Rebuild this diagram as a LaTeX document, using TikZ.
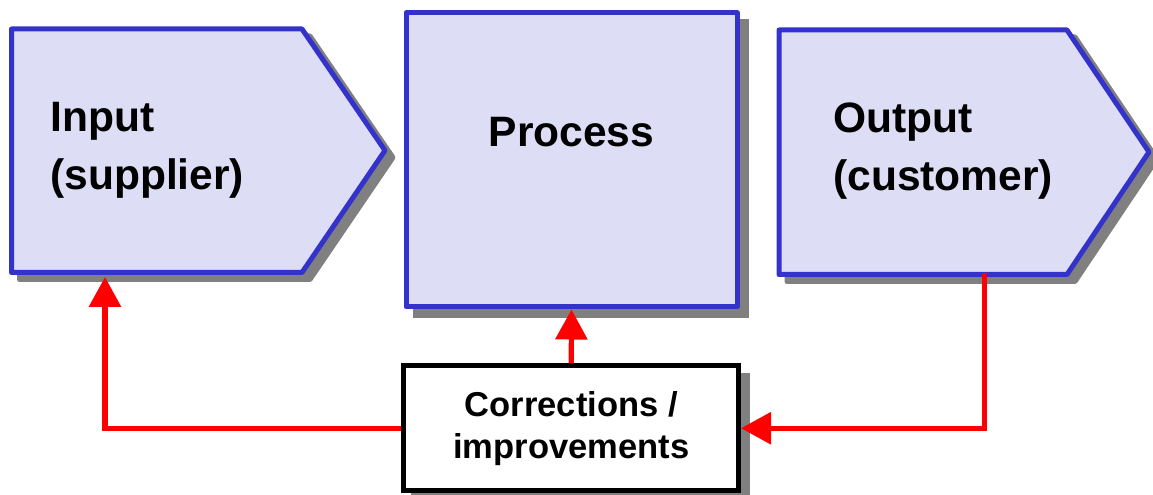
\documentclass[tikz,border=0pt]{standalone}
\usepackage{fontspec}
\setmainfont{Liberation Sans}
\usetikzlibrary{arrows.meta}
\definecolor{bfill}{HTML}{DDDDF5}
\definecolor{bline}{HTML}{3333CC}
\definecolor{shad}{HTML}{808080}
\begin{document}
\begin{tikzpicture}[x=0.75pt,y=-0.75pt,
  stage/.style={draw=bline,fill=bfill,line width=3.75pt,line join=round},
  shadowed/.style={draw=shad,fill=shad,line width=3.75pt,line join=round},
  fb/.style={draw=red,line width=3.9pt},
  tipped/.style={-{Triangle[width=23.5pt,length=22.5pt]}},
  big/.style={font=\bfseries\fontsize{31.9}{43.5}\selectfont,inner sep=0pt},
  small/.style={font=\bfseries\fontsize{25.9}{31.5}\selectfont,align=center}]
\useasboundingbox (0,0) rectangle (1153,495);
% shadows
\draw[shadowed,shift={(8,7)}] (11.5,29) -- (302,29) -- (385,150.5) -- (302,272.5) -- (11.5,272.5) -- cycle;
\draw[shadowed,shift={(8,7)}] (779,30) -- (1067,30) -- (1149,152) -- (1067,274.5) -- (779,274.5) -- cycle;
\fill[shad] (412.5,19.5) rectangle (748.5,318.5);
\fill[shad] (410.5,372.5) rectangle (750,502);
% stages
\draw[stage] (11.5,29) -- (302,29) -- (385,150.5) -- (302,272.5) -- (11.5,272.5) -- cycle;
\draw[stage] (779,30) -- (1067,30) -- (1149,152) -- (1067,274.5) -- (779,274.5) -- cycle;
\node[stage,minimum width=248.25pt,minimum height=220.5pt,inner sep=0pt] (proc) at (571.5,160) {};
\node[big,anchor=base west,align=left] (inp) at (50,190) {Input\\(supplier)};
\node[big,anchor=base west,align=left] (out) at (833,191) {Output\\(customer)};
\node[big,anchor=base] (proctext) at (571.5,147) {Process};
\node[small,draw=black,fill=white,line width=3.75pt,minimum width=250.9pt,minimum height=93.4pt,inner sep=0pt] (corr) at (571.25,428.25) {Corrections /\\improvements};
\coordinate (inpB) at (105,277);
\coordinate (outB) at (984.5,273);
% connectors
\draw[fb,tipped] (corr.west) -| (inpB);
\draw[fb,tipped] (corr.north) -- (proc.south);
\draw[fb,tipped] (outB) |- (corr.east);
\end{tikzpicture}
\end{document}
